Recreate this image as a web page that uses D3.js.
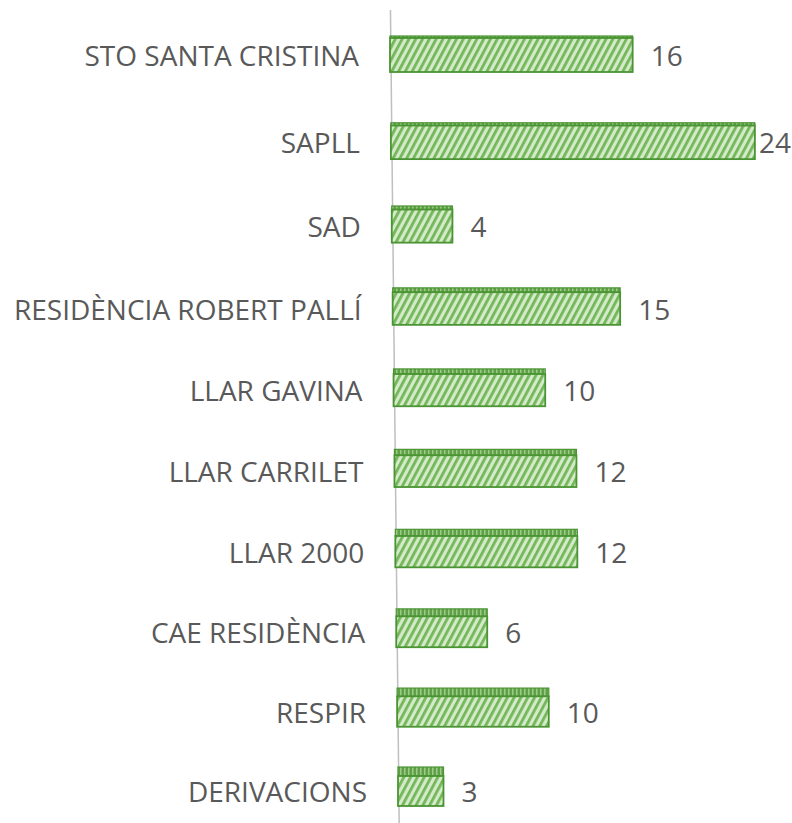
<!DOCTYPE html>
<html>
<head>
<meta charset="utf-8">
<script src="https://cdn.jsdelivr.net/npm/d3@7"></script>
<style>
  body { margin: 0; background: #fff; }
  svg { display: block; }
</style>
</head>
<body>
<div id="container"></div>
<script>
/* DATA */
const categories = ["STO SANTA CRISTINA", "SAPLL", "SAD", "RESIDÈNCIA ROBERT PALLÍ", "LLAR GAVINA",
  "LLAR CARRILET", "LLAR 2000", "CAE RESIDÈNCIA", "RESPIR", "DERIVACIONS"]
const values = [16, 24, 4, 15, 10, 12, 12, 6, 10, 3]

/* CONSTANTS */
const width = 792, height = 823
const n = categories.length
const textColor = "#595959"
const font = "'Open Sans', sans-serif"

// rows sit a bit closer together towards the bottom (3d perspective of the original)
const rowBottom = d3.scalePow().exponent(0.97).domain([0, n - 1]).range([72, 806])
const baseX = d3.scaleLinear().domain([0, n - 1]).range([390, 398])
const frontH = d3.scaleLinear().domain([0, n - 1]).range([34, 30])
const topH = d3.scaleLinear().domain([0, n - 1]).range([2, 9])
const xLen = d3.scaleLinear().domain([0, 24]).range([0, 364])

const svg = d3.select("#container")
  .append("svg")
  .attr("width", width)
  .attr("height", height)

// PATTERNS
const defs = svg.append("defs")
const front = defs.append("pattern")
  .attr("id", "hatch")
  .attr("patternUnits", "userSpaceOnUse")
  .attr("width", 6).attr("height", 6)
  .attr("patternTransform", "rotate(28)")
front.append("rect").attr("width", 6).attr("height", 6).attr("fill", "#d4ebca")
front.append("rect").attr("width", 2.8).attr("height", 6).attr("fill", "#74b65a")

const topPat = defs.append("pattern")
  .attr("id", "hatchTop")
  .attr("patternUnits", "userSpaceOnUse")
  .attr("width", 4).attr("height", 4)
topPat.append("rect").attr("width", 4).attr("height", 4).attr("fill", "#5f9f48")
topPat.append("rect").attr("width", 1.5).attr("height", 4).attr("fill", "#9ccb87")

// AXIS LINE (slanted)
svg.append("line")
  .attr("x1", baseX(-0.6) + 1).attr("y1", 10)
  .attr("x2", baseX(n - 1 + 0.2) + 1).attr("y2", height)
  .attr("stroke", "#bfbfbf")
  .attr("stroke-width", 1.5)

const rows = svg.selectAll(".row")
  .data(values.map((v, i) => ({ v, i, name: categories[i] })))
  .join("g")
  .attr("class", "row")

// top face
rows.append("rect")
  .attr("x", d => baseX(d.i))
  .attr("y", d => rowBottom(d.i) - frontH(d.i) - topH(d.i))
  .attr("width", d => xLen(d.v))
  .attr("height", d => topH(d.i))
  .attr("fill", "url(#hatchTop)")
  .attr("stroke", "#4a9433")
  .attr("stroke-width", 1.2)

// front face
rows.append("rect")
  .attr("x", d => baseX(d.i))
  .attr("y", d => rowBottom(d.i) - frontH(d.i))
  .attr("width", d => xLen(d.v))
  .attr("height", d => frontH(d.i))
  .attr("fill", "url(#hatch)")
  .attr("stroke", "#4a9433")
  .attr("stroke-width", 1.8)

// category labels
rows.append("text")
  .attr("x", d => baseX(d.i) - 31)
  .attr("y", d => rowBottom(d.i) - frontH(d.i) / 2)
  .attr("text-anchor", "end")
  .attr("dominant-baseline", "central")
  .attr("fill", textColor)
  .style("font-family", font)
  .style("font-size", "28px")
  .text(d => d.name)

// value labels
rows.append("text")
  .attr("y", d => rowBottom(d.i) - frontH(d.i) / 2)
  .attr("dominant-baseline", "central")
  .attr("fill", textColor)
  .style("font-family", font)
  .style("font-size", "28px")
  .text(d => d.v)
  .attr("x", function (d) {
    const w = this.getComputedTextLength()
    return Math.min(baseX(d.i) + xLen(d.v) + 18, width - 1 - w)
  })
</script>
</body>
</html>
